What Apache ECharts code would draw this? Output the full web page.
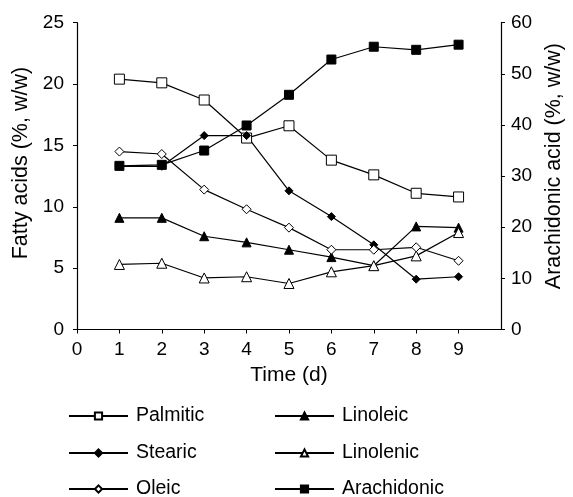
<!DOCTYPE html>
<html>
<head>
<meta charset="utf-8">
<script src="https://cdn.jsdelivr.net/npm/echarts@6/dist/echarts.min.js"></script>
<style>html,body{margin:0;padding:0;background:#fff;}#c{width:573px;height:497px;}</style>
</head>
<body>
<div id="c"></div>
<script>
const days = [1, 2, 3, 4, 5, 6, 7, 8, 9];
const palmitic = [20.4, 20.1, 18.7, 15.6, 16.6, 13.8, 12.6, 11.1, 10.8];
const stearic = [13.3, 13.3, 15.8, 15.8, 11.3, 9.2, 6.9, 4.1, 4.3];
const oleic = [14.5, 14.3, 11.4, 9.8, 8.3, 6.5, 6.5, 6.7, 5.6];
const linoleic = [9.1, 9.1, 7.6, 7.1, 6.5, 5.9, 5.2, 8.4, 8.3];
const linolenic = [5.3, 5.4, 4.2, 4.3, 3.75, 4.7, 5.2, 6.0, 7.9];
const arachidonic = [32.0, 32.2, 35.0, 39.9, 45.9, 52.8, 55.3, 54.7, 55.7];

const FONT = 'Liberation Sans';
const pair = (vals) => days.map((d, i) => [d, vals[i]]);

function mkSeries(name, vals, symbol, size, filled, yIdx, z) {
  return {
    name: name, type: 'line', data: pair(vals), yAxisIndex: yIdx,
    symbol: symbol, symbolSize: size, showAllSymbol: true, z: z,
    lineStyle: { color: '#000', width: 1.2 },
    itemStyle: { color: filled ? '#000' : '#fff', borderColor: '#000', borderWidth: 1, opacity: 1 },
    emphasis: { disabled: true }, animation: false
  };
}

const pos = [
  ['Palmitic', 68, 406], ['Linoleic', 274, 406],
  ['Stearic', 68, 443], ['Linolenic', 274, 443],
  ['Oleic', 68, 479], ['Arachidonic', 274, 479]
];
const legends = pos.map(p => ({
  data: [p[0]], left: p[1], top: p[2], padding: 0,
  itemWidth: 59, itemHeight: 9, selectedMode: false,
  textStyle: { fontFamily: FONT, fontSize: 19.5, color: '#000', padding: [0, 0, 0, 3] }
}));

const chart = echarts.init(document.getElementById('c'), null, { renderer: 'canvas' });
chart.setOption({
  animation: false,
  backgroundColor: '#fff',
  grid: { left: 77, right: 71, top: 22.7, bottom: 167.5 },
  legend: legends,
  xAxis: {
    type: 'value', min: 0, max: 10, interval: 1,
    name: 'Time (d)', nameLocation: 'middle', nameGap: 33,
    nameTextStyle: { fontFamily: FONT, fontSize: 21, color: '#000' },
    axisLine: { lineStyle: { color: '#000', width: 1.2 } },
    axisTick: { lineStyle: { color: '#000' }, length: 4 },
    axisLabel: { fontFamily: FONT, fontSize: 19, color: '#000', margin: 11, showMaxLabel: false },
    splitLine: { show: false }
  },
  yAxis: [
    {
      type: 'value', min: 0, max: 25, interval: 5, position: 'left',
      name: 'Fatty acids (%, w/w)', nameLocation: 'middle', nameGap: 44,
      nameTextStyle: { fontFamily: FONT, fontSize: 21.5, color: '#000', padding: [0, 0, 0, 26] },
      axisLine: { show: true, lineStyle: { color: '#000', width: 1.2 } },
      axisTick: { show: true, lineStyle: { color: '#000' }, length: 4 },
      axisLabel: { fontFamily: FONT, fontSize: 19, color: '#000', margin: 13 },
      splitLine: { show: false }
    },
    {
      type: 'value', min: 0, max: 60, interval: 10, position: 'right',
      name: 'Arachidonic acid (%, w/w)', nameLocation: 'middle', nameGap: 40, nameRotate: 90,
      nameTextStyle: { fontFamily: FONT, fontSize: 21.5, color: '#000', padding: [0, 0, 0, 20] },
      axisLine: { show: true, lineStyle: { color: '#000', width: 1.2 } },
      axisTick: { show: true, lineStyle: { color: '#000' }, length: 4 },
      axisLabel: { fontFamily: FONT, fontSize: 19, color: '#000', margin: 10 },
      splitLine: { show: false }
    }
  ],
  series: [
    mkSeries('Palmitic', palmitic, 'rect', 10, false, 0, 2),
    mkSeries('Linoleic', linoleic, 'triangle', 9, true, 0, 2),
    mkSeries('Stearic', stearic, 'diamond', 8, true, 0, 2),
    mkSeries('Linolenic', linolenic, 'triangle', 10, false, 0, 2),
    mkSeries('Oleic', oleic, 'diamond', 9, false, 0, 2),
    mkSeries('Arachidonic', arachidonic, 'rect', 9, true, 1, 3)
  ]
});
</script>
</body>
</html>
